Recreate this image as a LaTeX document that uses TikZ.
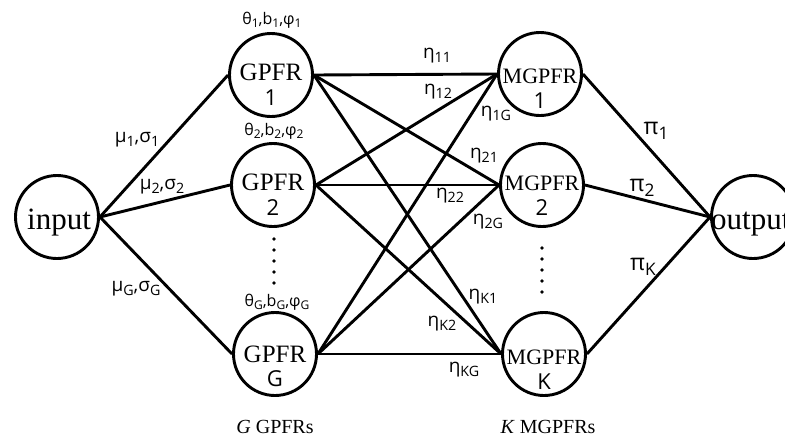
\documentclass[tikz,border=0pt]{standalone}
\usepackage{fontspec}
\usepackage{graphicx}
\setmainfont{Liberation Serif}
\newfontfamily\osans{Open Sans}
\usetikzlibrary{calc}
\newcommand\sbx[1]{\raisebox{-0.2em}{\scalebox{0.75}{#1}}}
\begin{document}
\begin{tikzpicture}[x=1pt,y=-1pt,
  unitc/.style={circle,draw,line width=2.9pt,minimum size=83pt,inner sep=0pt},
  conn/.style={line width=2.9pt},
  gtxt/.style={font=\fontsize{25}{25}\selectfont,anchor=base,inner sep=0pt},
  mtxt/.style={font=\fontsize{22}{22}\selectfont,anchor=base,inner sep=0pt},
  iotxt/.style={font=\fontsize{31}{31}\selectfont,anchor=base,inner sep=0pt},
  digtxt/.style={font=\osans\fontsize{22}{22}\selectfont,anchor=base,inner sep=0pt},
  partxt/.style={font=\osans\fontsize{16}{16}\selectfont,inner sep=0pt},
  wlab/.style={font=\osans\fontsize{19}{19}\selectfont,inner sep=0pt},
  plab/.style={font=\osans\fontsize{23}{23}\selectfont,inner sep=0pt},
  captxt/.style={font=\fontsize{20}{20}\selectfont,anchor=base,inner sep=0pt},
  dotc/.style={circle,fill,inner sep=0pt,minimum size=3.8pt}
]
\useasboundingbox (0,0) rectangle (785,437);
\clip (0,0) rectangle (785,437);
% units
\node[unitc] (in) at (57,217) {};
\node[unitc] (G1) at (271,75) {};
\node[unitc] (G2) at (273,185) {};
\node[unitc] (GG) at (275,354) {};
\node[unitc] (M1) at (540,74) {};
\node[unitc] (M2) at (542,185) {};
\node[unitc] (MK) at (544,354) {};
\node[unitc] (out) at (753,217) {};
% texts in units
\node[iotxt] (tin) at (59,229) {input};
\node[iotxt,anchor=base west] (tout) at (711,229) {output};
\node[gtxt] (tG1) at (271,80) {GPFR};
\node[digtxt] (dG1) at (271,105) {1};
\node[gtxt] (tG2) at (273,190) {GPFR};
\node[digtxt] (dG2) at (273,215) {2};
\node[gtxt] (tGG) at (275,362) {GPFR};
\node[digtxt] (dGG) at (275,386) {G};
\node[mtxt] (tM1) at (540,83) {MGPFR};
\node[digtxt] (dM1) at (540,108) {1};
\node[mtxt] (tM2) at (542,190) {MGPFR};
\node[digtxt] (dM2) at (542,215) {2};
\node[mtxt] (tMK) at (544,364) {MGPFR};
\node[digtxt] (dMK) at (544,389) {K};
% connectors
\foreach \g in {G1,G2,GG} {
  \draw[conn] (in.east) -- (\g.west);
  \foreach \m in {M1,M2,MK} \draw[conn] (\g.east) -- (\m.west);
}
\foreach \m in {M1,M2,MK} \draw[conn] (\m.east) -- (out.west);
% dots
\foreach \i [count=\k] in {239,250,261,272,283} \node[dotc] (gd\k) at (274,\i) {};
\foreach \i [count=\k] in {248,259,270,281,292} \node[dotc] (md\k) at (542,\i) {};
% parameter labels
\node[partxt] (p1) at (272,20) {θ\sbx{1},b\sbx{1},φ\sbx{1}};
\node[partxt] (p2) at (274,131) {θ\sbx{2},b\sbx{2},φ\sbx{2}};
\node[partxt] (pG) at (277,302) {θ\sbx{G},b\sbx{G},φ\sbx{G}};
\node[wlab] (m1) at (137,140) {μ\sbx{1},σ\sbx{1}};
\node[wlab] (m2) at (162,187) {μ\sbx{2},σ\sbx{2}};
\node[wlab] (mG) at (136,289) {μ\sbx{G},σ\sbx{G}};
\node[wlab] (e11) at (437,56) {η\sbx{11}};
\node[wlab] (e12) at (438,92) {η\sbx{12}};
\node[wlab] (e1G) at (496,114) {η\sbx{1G}};
\node[wlab] (e21) at (484,156) {η\sbx{21}};
\node[wlab] (e22) at (450,196) {η\sbx{22}};
\node[wlab] (e2G) at (488,222) {η\sbx{2G}};
\node[wlab] (eK1) at (483,297) {η\sbx{K1}};
\node[wlab] (eK2) at (442,324) {η\sbx{K2}};
\node[wlab] (eKG) at (464,370) {η\sbx{KG}};
\node[plab] (pi1) at (656,131) {π\sbx{1}};
\node[plab] (pi2) at (642,188) {π\sbx{2}};
\node[plab] (piK) at (643,267) {π\sbx{K}};
% captions
\node[captxt] (cG) at (275,433) {\textit{G} GPFRs};
\node[captxt] (cM) at (548,433) {\textit{K} MGPFRs};
\end{tikzpicture}
\end{document}
